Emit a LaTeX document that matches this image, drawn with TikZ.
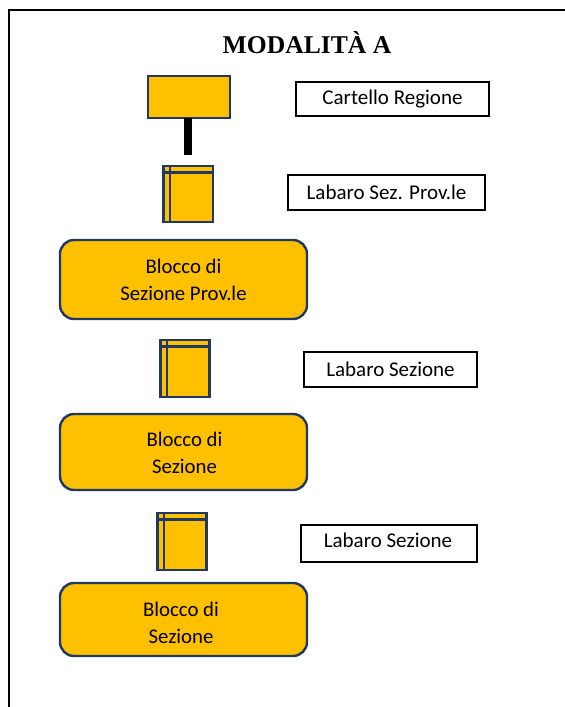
\documentclass[tikz,border=0pt]{standalone}
\usepackage{fontspec}
\setmainfont{Carlito}
\newfontfamily\titlefont{Liberation Serif}
\usetikzlibrary{calc}
\definecolor{fillY}{HTML}{FFC000}
\definecolor{navy}{HTML}{1F3864}
\tikzset{
  x=1pt,y=-1pt,
  box/.style={draw=navy,fill=fillY,line width=2.4pt,inner sep=0pt,outer sep=0pt,anchor=north west},
  block/.style={box,rounded corners=14pt},
  blocktext/.style={align=center,font=\fontsize{20.8}{27}\selectfont,text=black,inner sep=0pt},
  tag/.style={draw=black,line width=1.6pt,fill=white,inner sep=0pt,outer sep=0pt,anchor=north west,font=\fontsize{21}{25}\selectfont},
  inner/.style={draw=navy,line width=2.4pt},
}
\newcommand{\labaro}[6]{% name x y w h inset
  \node[box,minimum width=#4pt,minimum height=#5pt] (#1) at (#2,#3) {};
  \draw[inner] ($(#1.north west)+(#6pt,0)$) -- ($(#1.south west)+(#6pt,0)$);
  \draw[inner] ($(#1.north west)+(0,-#6pt)$) -- ($(#1.north east)+(0,-#6pt)$);
}
\begin{document}
\begin{tikzpicture}
\useasboundingbox (0,0) rectangle (565,707);
\fill[white] (0,0) rectangle (565,707);
\coordinate (fb) at (9,707);
\coordinate (ft) at (9,10);
\coordinate (fr) at (565,10);
\draw[black,line width=2pt] (fb) -- (ft) -- (fr);
\node[font=\titlefont\bfseries\fontsize{25.6}{30}\selectfont] (title) at (307,43) {MODALITÀ A};

\node[box,minimum width=82pt,minimum height=42pt] (sign) at (148,76) {};
\coordinate (postend) at (187.5,155);
\draw[black,line width=8pt] (sign.south -| postend) -- (postend);
\labaro{lab1}{163.5}{166}{49.5}{56}{6.5}
\node[block,minimum width=247pt,minimum height=79pt,
  label={[blocktext]center:Blocco di\\Sezione Prov.le}] (b1) at (60,240) {};
\labaro{lab2}{160.5}{340}{49}{57}{6.5}
\node[block,minimum width=247pt,minimum height=76pt,
  label={[blocktext,xshift=1pt,yshift=-1pt]center:Blocco di\\Sezione}] (b2) at (60,414) {};
\labaro{lab3}{157.5}{513}{49}{57}{6.5}
\node[block,minimum width=247pt,minimum height=73pt,
  label={[blocktext,xshift=-2.5pt,yshift=-3pt]center:Blocco di\\Sezione}] (b3) at (60,583) {};

\node[tag,minimum width=193pt,minimum height=34pt] (t1) at (296,82) {Cartello Regione};
\node[tag,minimum width=197pt,minimum height=35pt] (t2) at (288,175) {Labaro Sez. Prov.le};
\node[tag,minimum width=173pt,minimum height=35pt] (t3) at (304,352) {Labaro Sezione};
\node[tag,minimum width=176pt,minimum height=37pt,
  label={[font=\fontsize{21}{25}\selectfont,inner sep=0pt,yshift=3pt,xshift=-1pt]center:Labaro Sezione}] (t4) at (301,525) {};
\end{tikzpicture}
\end{document}
